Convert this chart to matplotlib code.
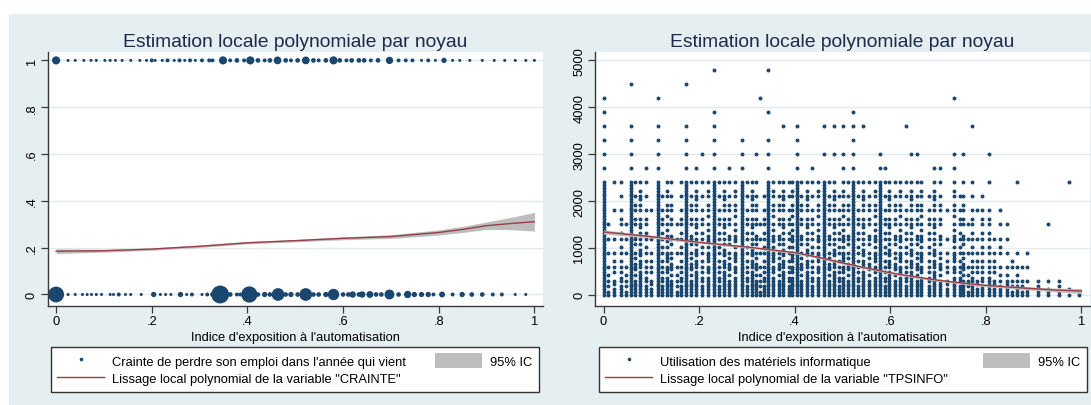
import matplotlib
matplotlib.use("Agg")
import matplotlib.pyplot as plt
from matplotlib.lines import Line2D
from matplotlib.patches import Patch, Rectangle
import numpy as np

plt.rcParams['font.family'] = ['Liberation Sans', 'DejaVu Sans']

NAVY = '#1a476f'
MAROON = '#9a3d45'
CI_GRAY = '#bdbdbd'
BG = '#e5eef0'
GRID = '#e1eaed'
AXIS = '#3a3a3a'

TITLE = "Estimation locale polynomiale par noyau"
XLABEL = "Indice d'exposition à l'automatisation"
XTICKS = [0, 0.2, 0.4, 0.6, 0.8, 1]
XTICKLABELS = ['0', '.2', '.4', '.6', '.8', '1']

# --- CRAINTE: weighted markers at 0 and 1 ---
crainte0_x = [0.000, 0.025, 0.040, 0.055, 0.065, 0.074, 0.084, 0.095, 0.113, 0.120,
              0.131, 0.145, 0.156, 0.178, 0.204, 0.218, 0.229, 0.240, 0.260, 0.273,
              0.284, 0.305, 0.316, 0.327, 0.343, 0.364, 0.378, 0.385, 0.404, 0.422,
              0.436, 0.447, 0.464, 0.480, 0.491, 0.505, 0.522, 0.538, 0.549, 0.564,
              0.580, 0.600, 0.611, 0.620, 0.633, 0.640, 0.656, 0.669, 0.680, 0.697,
              0.716, 0.735, 0.749, 0.764, 0.778, 0.789, 0.807, 0.829, 0.849, 0.869,
              0.891, 0.913, 0.932, 0.960, 0.982]
crainte0_w = [39, 1, 1, 1, 1, 1, 1, 1, 1, 1,
              2, 1, 1, 1, 4, 1, 1, 1, 4, 1,
              2, 1, 2, 3, 50, 3, 2, 2, 41, 3,
              4, 3, 25, 3, 4, 3, 25, 3, 3, 4,
              20, 3, 3, 6, 3, 6, 7, 3, 3, 15,
              3, 8, 4, 4, 4, 2, 5, 2, 4, 3,
              3, 2, 2, 1, 1]
crainte1_x = [0.000, 0.025, 0.040, 0.058, 0.073, 0.084, 0.102, 0.113, 0.124, 0.138,
              0.156, 0.175, 0.189, 0.200, 0.207, 0.222, 0.233, 0.247, 0.258, 0.269,
              0.280, 0.291, 0.305, 0.320, 0.327, 0.349, 0.364, 0.378, 0.393, 0.406,
              0.422, 0.436, 0.447, 0.463, 0.480, 0.491, 0.505, 0.522, 0.538, 0.549,
              0.564, 0.580, 0.593, 0.607, 0.618, 0.633, 0.644, 0.658, 0.673, 0.697,
              0.716, 0.731, 0.745, 0.764, 0.778, 0.793, 0.811, 0.829, 0.844, 0.865,
              0.891, 0.916, 0.938, 0.960, 0.982, 1.000]
crainte1_w = [10, 1, 1, 1, 1, 1, 1, 1, 1, 1,
              1, 1, 1, 2, 1, 1, 2, 1, 2, 1,
              2, 1, 2, 2, 2, 10, 2, 3, 2, 10,
              3, 2, 3, 9, 3, 2, 3, 9, 3, 2,
              3, 10, 3, 2, 3, 3, 3, 2, 3, 8,
              2, 2, 2, 1, 2, 1, 4, 1, 1, 1,
              1, 1, 1, 1, 1, 1]

crainte_fit_x = [0.0, 0.1, 0.2, 0.3, 0.4, 0.5, 0.6, 0.7, 0.8, 0.85, 0.9, 0.95, 1.0]
crainte_fit = [0.185, 0.187, 0.194, 0.206, 0.221, 0.230, 0.240, 0.2475, 0.265, 0.278,
               0.294, 0.303, 0.311]
crainte_half = [0.010, 0.006, 0.005, 0.005, 0.005, 0.005, 0.006, 0.008, 0.011, 0.013,
                0.016, 0.026, 0.040]

# --- TPSINFO: one column of observations per exposure value ---
# low part: 0..2340 by 60, written in groups of five (0-240, 300-540, ...)
tps_low_levels = [0, 60, 120, 180, 240, 300, 360, 420, 480, 540,
                  600, 660, 720, 780, 840, 900, 960, 1020, 1080, 1140,
                  1200, 1260, 1320, 1380, 1440, 1500, 1560, 1620, 1680, 1740,
                  1800, 1860, 1920, 1980, 2040, 2100, 2160, 2220, 2280, 2340]
tps_high_levels = [2400, 2700, 3000, 3300, 3600, 3900, 4200, 4500, 4800]

FULL = "##### ##### ##### ##### ##### ##### ##### #####"
DENSE_A = "##### ####. ###.# ##.#. #.#.# #.#.. #.#.# #.#.."
DENSE_B = "##### ##.## #.### #.#.# ##.#. #..#. #.#.. #.#.."
MID_A = "####. ##.#. #.#.. #.#.. #.#.. #.#.. #.... #...."
MID_B = "##### #.#.# ##.#. #..#. ##... #.#.. #.#.. #...."
THIN_A = "##.#. #.#.. #.... #.... #.... #.... ..... ....."
THIN_B = "###.# #..#. #.#.. #.... #.... ..... #.... ....."

tps_cols_x = [0.000, 0.010, 0.022, 0.036, 0.047, 0.057, 0.066, 0.077, 0.088, 0.100,
              0.113, 0.122, 0.132, 0.142, 0.153, 0.163, 0.173, 0.183, 0.193, 0.205,
              0.218, 0.231, 0.242, 0.252, 0.262, 0.275, 0.290, 0.300, 0.310, 0.320,
              0.327, 0.336, 0.345, 0.355, 0.367, 0.375, 0.387, 0.395, 0.404, 0.414,
              0.425, 0.436, 0.448, 0.462, 0.472, 0.482, 0.492, 0.502, 0.512, 0.522,
              0.532, 0.542, 0.555, 0.567, 0.578, 0.588, 0.598, 0.610, 0.620, 0.632,
              0.643, 0.655, 0.665, 0.680, 0.692, 0.705, 0.718, 0.733, 0.745, 0.753,
              0.762, 0.771, 0.782, 0.792, 0.807, 0.818, 0.829, 0.844, 0.855, 0.865,
              0.876, 0.887, 0.909, 0.930, 0.953, 0.975, 0.996]
tps_cols_low = [FULL, THIN_A, THIN_B, MID_A, THIN_A, FULL, MID_B, DENSE_A, MID_A, THIN_B,
                FULL, MID_A, DENSE_B, MID_B, THIN_A, MID_A, FULL, MID_B, DENSE_A, MID_A,
                DENSE_B, FULL, MID_A, DENSE_A, MID_B, DENSE_B, FULL, MID_A, DENSE_A, MID_B,
                THIN_A, MID_A, FULL, DENSE_B, MID_B, DENSE_A, MID_A, DENSE_B, FULL, MID_B,
                DENSE_A, MID_A, DENSE_B, FULL, MID_B, DENSE_A, MID_A, DENSE_B, MID_B, FULL,
                MID_A, DENSE_A, MID_B, DENSE_B, FULL, MID_A, DENSE_A, MID_B, DENSE_B, MID_A,
                DENSE_A, MID_B, DENSE_B, MID_A, DENSE_A, MID_B, THIN_B, DENSE_B, MID_A, MID_B,
                THIN_A, MID_A, THIN_B, MID_A,
                "##### ##.#. #.#.. #.#.. #.#.. #.#.. #.... .....",
                "###.# #..#. #.#.. #.... #.... ..... ..... .....",
                "####. #.#.. #.... #.#.. #.... #.... #.... .....",
                "###.# #.#.. #.... #.... #.... #.... ..... .....",
                "##.#. #.... #.#.. ..... ..... ..... ..... .....",
                "####. #.#.. #.... #.... ..... ..... ..... .....",
                "##.#. #.... #.... ..... ..... ..... ..... .....",
                "###.. #.... #.... #.... ..... ..... ..... .....",
                "##.#. #.... ..... ..... ..... ..... ..... .....",
                "###.. #.... ..... ..... ..... #.... ..... .....",
                "##.#. #.... ..... ..... ..... ..... ..... .....",
                "#.#.. ..... ..... ..... ..... ..... ..... .....",
                "##... ..... ..... ..... ..... ..... ..... ....."]
tps_cols_high = ["#######..", ".........", "#........", "#........", ".........",
                 "#####..#.", "#........", "#........", "##.......", ".........",
                 "#####.#..", ".........", "#........", "#........", ".........",
                 "#........", "#####..#.", "#........", "##.......", "#.#......",
                 "#........", "######..#", "#........", "#........", "##.......",
                 "#........", "####.....", "#........", "#........", "#.#......",
                 "......#..", ".........", "####.#..#", "#........", "#........",
                 "#...#....", "#........", "#........", "#####....", "#........",
                 "#........", "##.......", "#........", "#.#.#....", "#........",
                 "#.#.#....", ".........", "###.#....", "#........", "######...",
                 "#........", "#...#....", "#........", "#........", "###......",
                 "##.......", "#........", "#........", "#........", "#...#....",
                 "#.#......", "#.#......", "#........", ".........", "##.......",
                 "##.......", ".........", "###...#..", ".........", "#.#......",
                 ".........", "#...#....", ".........", ".........", "#.#......",
                 ".........", ".........", ".........", ".........", "#........",
                 ".........", ".........", ".........", ".........", ".........",
                 "#........", "........."]

tps_fit_x = [0.0, 0.1, 0.2, 0.3, 0.4, 0.45, 0.5, 0.55, 0.6, 0.65, 0.7, 0.75, 0.8,
             0.85, 0.9, 0.95, 1.0]
tps_fit = [1340, 1240, 1120, 1020, 900, 800, 680, 570, 470, 385, 310, 250, 200,
           165, 130, 100, 80]
tps_half = [45, 30, 25, 25, 25, 25, 25, 25, 25, 25, 25, 25, 30, 30, 35, 40, 55]

tps_x, tps_y = [], []
for cx, low, high in zip(tps_cols_x, tps_cols_low, tps_cols_high):
    marks = low.replace(' ', '') + high
    for lvl, c in zip(tps_low_levels + tps_high_levels, marks):
        if c == '#':
            tps_x.append(cx)
            tps_y.append(lvl)


def style_panel(ax, yticks, yticklabels, ylim):
    ax.set_facecolor('white')
    for side in ['top', 'right']:
        ax.spines[side].set_visible(False)
    for side in ['left', 'bottom']:
        ax.spines[side].set_color(AXIS)
        ax.spines[side].set_linewidth(1.0)
    ax.set_xlim(-0.018, 1.018)
    ax.set_ylim(*ylim)
    ax.set_xticks(XTICKS)
    ax.set_xticklabels(XTICKLABELS)
    ax.set_yticks(yticks)
    ax.set_yticklabels(yticklabels, rotation=90, va='center')
    ax.tick_params(length=5, width=0.9, color=AXIS, labelsize=9.3, pad=2)
    ax.grid(axis='y', color=GRID, lw=1.0)
    ax.set_axisbelow(True)
    ax.set_title(TITLE, fontsize=13.9, color='#1d2b4c', pad=4)
    ax.set_xlabel(XLABEL, fontsize=9.3, labelpad=3)


def add_legend(ax, left_px, scatter_label, line_label):
    handles = [
        Line2D([], [], ls='none', marker='o', ms=2.6, mew=0, color=NAVY),
        Line2D([], [], color=MAROON, lw=1.0),
        Patch(facecolor=CI_GRAY, edgecolor='none'),
    ]
    labels = [scatter_label, line_label, '95% IC']
    leg = ax.legend(handles, labels, ncol=2, loc='upper left',
                    bbox_to_anchor=(left_px / 1091, 11 / 406, 488 / 1091, 47 / 406),
                    bbox_transform=ax.figure.transFigure, mode='expand',
                    fontsize=9.3, fancybox=False, edgecolor='#333333',
                    handlelength=3.64, handleheight=1.32, handletextpad=0.62,
                    labelspacing=0.23, borderpad=0.5, columnspacing=1.0,
                    borderaxespad=0)
    leg.get_frame().set_linewidth(1.0)
    leg.get_frame().set_alpha(None)


fig = plt.figure(figsize=(10.91, 4.06), dpi=100)
fig.add_artist(Rectangle((8.5 / 1091, 0), 1, (406 - 14.5) / 406,
                         transform=fig.transFigure, color=BG, zorder=-10))

ax1 = fig.add_axes([47.5 / 1091, 99.5 / 406, 495.5 / 1091, 254 / 406])
ax2 = fig.add_axes([595 / 1091, 99.5 / 406, 495 / 1091, 254 / 406])

# left: fear of losing one's job
ax1.scatter(crainte0_x, [0] * len(crainte0_x), s=np.array(crainte0_w) * 3.3 + 1.5,
            color=NAVY, linewidths=0, zorder=2, clip_on=False)
ax1.scatter(crainte1_x, [1] * len(crainte1_x), s=np.array(crainte1_w) * 3.3 + 1.5,
            color=NAVY, linewidths=0, zorder=2, clip_on=False)
lo = np.array(crainte_fit) - np.array(crainte_half)
hi = np.array(crainte_fit) + np.array(crainte_half)
ax1.fill_between(crainte_fit_x, lo, hi, color=CI_GRAY, lw=0, zorder=3)
ax1.plot(crainte_fit_x, crainte_fit, color=MAROON, lw=1.0, zorder=4)
style_panel(ax1, [0, 0.2, 0.4, 0.6, 0.8, 1], ['0', '.2', '.4', '.6', '.8', '1'],
            (-0.047, 1.038))
add_legend(ax1, 51, "Crainte de perdre son emploi dans l'année qui vient",
           'Lissage local polynomial de la variable "CRAINTE"')

# right: time spent on computer equipment
ax2.scatter(tps_x, tps_y, s=8, color=NAVY, linewidths=0, zorder=2, clip_on=False)
lo = np.array(tps_fit) - np.array(tps_half)
hi = np.array(tps_fit) + np.array(tps_half)
ax2.fill_between(tps_fit_x, lo, hi, color=CI_GRAY, lw=0, zorder=3)
ax2.plot(tps_fit_x, tps_fit, color=MAROON, lw=1.0, zorder=4)
style_panel(ax2, [0, 1000, 2000, 3000, 4000, 5000],
            ['0', '1000', '2000', '3000', '4000', '5000'], (-229, 5192))
add_legend(ax2, 599, 'Utilisation des matériels informatique',
           'Lissage local polynomial de la variable "TPSINFO"')

fig.savefig('out.png', dpi=100, facecolor='white')
